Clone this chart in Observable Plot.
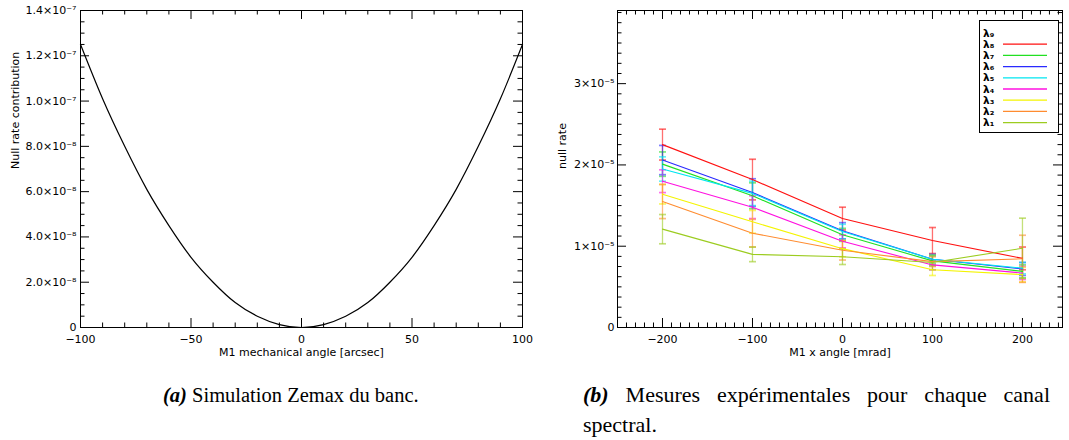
<!DOCTYPE html>
<html><head><meta charset="utf-8">
<script src="https://cdn.jsdelivr.net/npm/d3@7"></script>
<script src="https://cdn.jsdelivr.net/npm/@observablehq/plot@0.6"></script>
<style>
html,body{margin:0;padding:0;background:#fff;}
#wrap{position:relative;width:1069px;height:440px;overflow:hidden;font-family:"DejaVu Sans",sans-serif;}
.panel{position:absolute;top:0;}
.cap{position:absolute;font-family:"Liberation Serif","Times New Roman",serif;font-size:20.5px;color:#000;line-height:30px;white-space:nowrap;}
.cap b{font-style:italic;}
#legend{position:absolute;left:979px;top:20px;}
</style></head><body><div id="wrap">
<div id="left" class="panel" style="left:0px"></div>
<div id="right" class="panel" style="left:540px"></div>
<div id="legend"></div>
<div class="cap" style="left:163px;top:380px"><b>(a)</b> Simulation Zemax du banc.</div>
<div class="cap" style="left:583px;top:380px;width:467px;font-size:22px;text-align:justify;text-align-last:justify;white-space:normal"><b>(b)</b> Mesures expérimentales pour chaque canal</div>
<div class="cap" style="left:583px;top:410px;font-size:22px">spectral.</div>
</div>
<script>
// ---------- (a) simulation ----------
const simAngle = [-100,-90,-80,-70,-60,-50,-40,-30,-20,-10,0,10,20,30,40,50,60,70,80,90,100];
const simNullRate = [1.25e-7,1.01e-7,8.0e-8,6.1e-8,4.5e-8,3.1e-8,2.0e-8,1.1e-8,5.0e-9,1.3e-9,0,
                     1.3e-9,5.0e-9,1.1e-8,2.0e-8,3.1e-8,4.5e-8,6.1e-8,8.0e-8,1.01e-7,1.25e-7];
const simXTicks = [-100,-50,0,50,100];
const simXLabels = ["−100","−50","0","50","100"];
const simYTicks = [0,2e-8,4e-8,6e-8,8e-8,1.0e-7,1.2e-7,1.4e-7];
const simYLabels = ["0","2.0×10⁻⁸","4.0×10⁻⁸","6.0×10⁻⁸","8.0×10⁻⁸","1.0×10⁻⁷","1.2×10⁻⁷","1.4×10⁻⁷"];

// ---------- (b) measurements ----------
const angles = [-200,-100,0,100,200];
const channels = ["λ₈","λ₇","λ₆","λ₅","λ₄","λ₃","λ₂","λ₁"];
const channelColors = ["#ff1010","#22e022","#2a2aff","#00e6f0","#ff10e0","#f4f400","#ff8c30","#9ccc20"];
const rateL8 = [2.25e-5,1.82e-5,1.34e-5,1.07e-5,0.85e-5];
const rateL7 = [2.01e-5,1.62e-5,1.14e-5,0.82e-5,0.69e-5];
const rateL6 = [2.06e-5,1.66e-5,1.19e-5,0.84e-5,0.72e-5];
const rateL5 = [1.95e-5,1.65e-5,1.18e-5,0.84e-5,0.73e-5];
const rateL4 = [1.80e-5,1.48e-5,1.06e-5,0.77e-5,0.67e-5];
const rateL3 = [1.64e-5,1.30e-5,0.97e-5,0.71e-5,0.65e-5];
const rateL2 = [1.55e-5,1.16e-5,0.95e-5,0.81e-5,0.845e-5];
const rateL1 = [1.21e-5,0.90e-5,0.87e-5,0.80e-5,0.975e-5];
const errL8 = [0.19e-5,0.25e-5,0.14e-5,0.16e-5,0.14e-5];
const errL7 = [0.15e-5,0.16e-5,0.08e-5,0.06e-5,0.08e-5];
const errL6 = [0.18e-5,0.17e-5,0.10e-5,0.06e-5,0.08e-5];
const errL5 = [0.15e-5,0.15e-5,0.09e-5,0.05e-5,0.07e-5];
const errL4 = [0.14e-5,0.14e-5,0.08e-5,0.06e-5,0.08e-5];
const errL3 = [0.12e-5,0.14e-5,0.10e-5,0.07e-5,0.09e-5];
const errL2 = [0.21e-5,0.17e-5,0.12e-5,0.06e-5,0.29e-5];
const errL1 = [0.18e-5,0.09e-5,0.095e-5,0.09e-5,0.37e-5];
const measXTicks = [-200,-100,0,100,200];
const measXLabels = ["−200","−100","0","100","200"];
const measYTicks = [0,1e-5,2e-5,3e-5];
const measYLabels = ["0","1×10⁻⁵","2×10⁻⁵","3×10⁻⁵"];
const legendLabels = ["λ₉","λ₈","λ₇","λ₆","λ₅","λ₄","λ₃","λ₂","λ₁"];

const rates = [rateL8,rateL7,rateL6,rateL5,rateL4,rateL3,rateL2,rateL1];
const errs = [errL8,errL7,errL6,errL5,errL4,errL3,errL2,errL1];
const rows = channels.flatMap((c,i)=>angles.map((a,j)=>({channel:c, angle:a, rate:rates[i][j], err:errs[i][j]})));
const simRows = simAngle.map((a,i)=>({angle:a, value:simNullRate[i]}));

const MAJ = 9, MIN = 4.5;
function insideTicks(xMaj, xMin, yMaj, yMin, W, H){
  const o = {stroke:"#000", strokeWidth:1};
  return [
    Plot.tickY(yMaj,{y:d=>d, insetRight:W-MAJ, ...o}),
    Plot.tickY(yMaj,{y:d=>d, insetLeft:W-MAJ, ...o}),
    Plot.tickY(yMin,{y:d=>d, insetRight:W-MIN, ...o}),
    Plot.tickY(yMin,{y:d=>d, insetLeft:W-MIN, ...o}),
    Plot.tickX(xMaj,{x:d=>d, insetTop:H-MAJ, ...o}),
    Plot.tickX(xMaj,{x:d=>d, insetBottom:H-MAJ, ...o}),
    Plot.tickX(xMin,{x:d=>d, insetTop:H-MIN, ...o}),
    Plot.tickX(xMin,{x:d=>d, insetBottom:H-MIN, ...o})
  ];
}
const fontStyle = {fontFamily:"DejaVu Sans, sans-serif", fontSize:"11px", color:"#000", background:"#fff", overflow:"visible"};

// ---- left plot ----
{
  const width=540, height=370, mL=80, mR=18, mT=10, mB=43;
  const W = width-mL-mR, H = height-mT-mB;
  const xMin = d3.range(-90,100,10).filter(v=>v%50!==0);
  const yMin = d3.range(0,28).map(i=>i*0.5e-8).filter(v=>!simYTicks.some(t=>Math.abs(t-v)<1e-12));
  const xl = new Map(simXTicks.map((t,i)=>[t,simXLabels[i]]));
  const yl = new Map(simYTicks.map((t,i)=>[t,simYLabels[i]]));
  const p = Plot.plot({
    width, height, marginLeft:mL, marginRight:mR, marginTop:mT, marginBottom:mB,
    style: fontStyle,
    x:{domain:[-100,100]}, y:{domain:[0,1.4e-7]},
    marks:[
      Plot.axisX(simXTicks,{tickSize:0, tickPadding:8, tickFormat:d=>xl.get(d), fontSize:11, label:null}),
      Plot.axisY(simYTicks,{tickSize:0, tickPadding:4, tickFormat:d=>yl.get(d), fontSize:11, label:null}),
      ...insideTicks(simXTicks, xMin, simYTicks, yMin, W, H),
      Plot.frame({stroke:"#000"}),
      Plot.line(simRows,{x:"angle", y:"value", curve:"natural", stroke:"#000", strokeWidth:1.2}),
      Plot.text(["M1 mechanical angle [arcsec]"],{frameAnchor:"bottom", dy:28, fontSize:11, fill:"#000"}),
      Plot.text(["Null rate contribution"],{frameAnchor:"left", dx:-65, rotate:-90, fontSize:11, fill:"#000"})
    ]
  });
  document.getElementById("left").append(p);
}

// ---- right plot ----
{
  const width=529, height=370, mL=77, mR=7, mT=10, mB=43;
  const W = width-mL-mR, H = height-mT-mB;
  const xMin = d3.range(-250,245,10).filter(v=>v%100!==0);
  const yMin = d3.range(0,32).map(i=>i*0.125e-5).filter(v=>!measYTicks.some(t=>Math.abs(t-v)<1e-12));
  const xl = new Map(measXTicks.map((t,i)=>[t,measXLabels[i]]));
  const yl = new Map(measYTicks.map((t,i)=>[t,measYLabels[i]]));
  const p = Plot.plot({
    width, height, marginLeft:mL, marginRight:mR, marginTop:mT, marginBottom:mB,
    style: fontStyle,
    x:{domain:[-250,244.5]}, y:{domain:[0,3.9e-5]},
    color:{domain:channels, range:channelColors},
    marks:[
      Plot.axisX(measXTicks,{tickSize:0, tickPadding:8, tickFormat:d=>xl.get(d), fontSize:11, label:null}),
      Plot.axisY(measYTicks,{tickSize:0, tickPadding:3, tickFormat:d=>yl.get(d), fontSize:11, label:null}),
      ...insideTicks(measXTicks, xMin, measYTicks, yMin, W, H),
      Plot.frame({stroke:"#000"}),
      Plot.link(rows,{x1:"angle", x2:"angle", y1:d=>d.rate-d.err, y2:d=>d.rate+d.err, stroke:"channel", strokeOpacity:0.6, strokeWidth:1.3, markerStart:"tick", markerEnd:"tick"}),
      Plot.line(rows,{x:"angle", y:"rate", z:"channel", stroke:"channel", strokeWidth:1.1}),
      Plot.text(["M1 x angle [mrad]"],{frameAnchor:"bottom", dy:28, fontSize:11, fill:"#000"}),
      Plot.text(["null rate"],{frameAnchor:"left", dx:-55, rotate:-90, fontSize:11, fill:"#000"})
    ]
  });
  document.getElementById("right").append(p);
}

// ---- legend ----
{
  const svg = d3.select("#legend").append("svg").attr("width",81).attr("height",114)
    .style("overflow","visible");
  svg.append("rect").attr("x",0.5).attr("y",0.5).attr("width",79).attr("height",112)
    .attr("fill","#fff").attr("stroke","#000");
  legendLabels.forEach((lab,i)=>{
    const y = 13 + i*11.2;
    svg.append("text").attr("x",4).attr("y",y).attr("dy","0.35em")
      .attr("font-family","DejaVu Sans, sans-serif").attr("font-weight","bold")
      .attr("font-size","10.5px").attr("fill","#000").text(lab);
    const ci = channels.indexOf(lab);
    if (ci >= 0) {
      svg.append("line").attr("x1",24).attr("x2",68).attr("y1",y).attr("y2",y)
        .attr("stroke",channelColors[ci]).attr("stroke-width",1.3);
    }
  });
}
</script>
</body></html>
